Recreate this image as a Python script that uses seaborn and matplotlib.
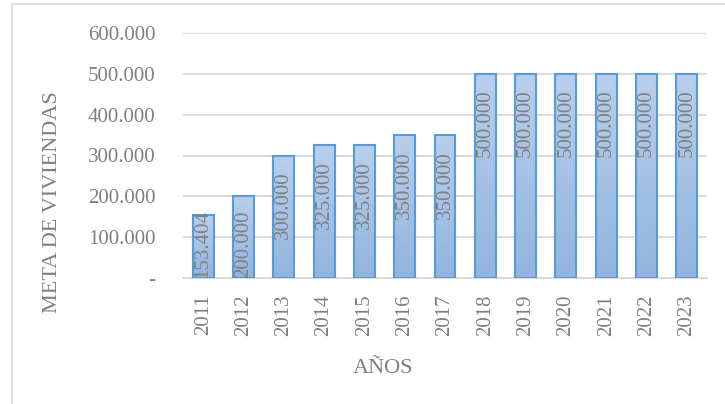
import pandas as pd
import numpy as np
import matplotlib
matplotlib.use("Agg")
import matplotlib.pyplot as plt
import seaborn as sns
from matplotlib.patches import Rectangle
from matplotlib.ticker import FuncFormatter
from matplotlib.colors import LinearSegmentedColormap

# data
years = ["2011", "2012", "2013", "2014", "2015", "2016", "2017",
         "2018", "2019", "2020", "2021", "2022", "2023"]
meta = [153404, 200000, 300000, 325000, 325000, 350000, 350000,
        500000, 500000, 500000, 500000, 500000, 500000]

df = pd.DataFrame({"anio": years, "meta": meta})

sns.set_style("white")
plt.rcParams['font.family'] = ['Liberation Serif', 'DejaVu Serif']
txt_col = "#7f7f7f"

fig = plt.figure(figsize=(7.25, 4.04), dpi=100)
ax = fig.add_axes([183/725, 1 - 278/404, (707 - 183)/725, (278 - 33)/404])

sns.barplot(data=df, x="anio", y="meta", color="#a6c3e8", saturation=1,
            edgecolor="#5b9bd5", linewidth=1.5, width=0.52, ax=ax, zorder=3)

# gradient fill like the original (light on top, darker at the base)
grad = LinearSegmentedColormap.from_list("g", ["#93b4df", "#b8cfec"])
for p in ax.patches:
    x0, y0 = p.get_x(), p.get_y()
    w, h = p.get_width(), p.get_height()
    im = ax.imshow(np.linspace(0, 1, 100).reshape(-1, 1), cmap=grad,
                   origin="lower", extent=[x0, x0 + w, y0, y0 + h],
                   aspect="auto", zorder=3.5)
    im.set_clip_path(p)
    p.set_facecolor("none")
    p.set_zorder(3.6)
ax.set_ylim(0, 600000)
ax.set_xlim(-0.5, len(years) - 0.5)

ax.set_yticks(np.arange(0, 600001, 100000))
fmt = lambda v, p: "-" if v == 0 else f"{int(v):,}".replace(",", ".")
ax.yaxis.set_major_formatter(FuncFormatter(fmt))
ax.grid(axis="y", color="#d9d9d9", linewidth=1.3, zorder=0)
for s in ["top", "right", "left"]:
    ax.spines[s].set_visible(False)
ax.spines["bottom"].set_color("#d9d9d9")
ax.spines["bottom"].set_linewidth(1.3)
ax.tick_params(axis="y", length=0, pad=20, labelsize=15, labelcolor=txt_col)
ax.tick_params(axis="x", length=0, pad=12, labelsize=15, labelcolor=txt_col,
               labelrotation=90)

ax.set_xlabel("AÑOS", fontsize=16, color=txt_col)
ax.set_ylabel("META DE VIVIENDAS", fontsize=16, color=txt_col)
ax.xaxis.set_label_coords((383 - 183) / 524, (278 - 359) / 245)
ax.yaxis.set_label_coords((62 - 183) / 524, (278 - 202) / 245)

# value labels inside the bars, rotated
px = 600000 / 245.0
for i, v in enumerate(meta):
    top = max(v - 16 * px, 68 * px)
    ax.text(i, top, fmt(v, None), rotation=90, ha="center", va="top",
            fontsize=15, color=txt_col, zorder=4)

fig.patches.append(Rectangle((12/725, -0.05), 1.0, 1 - 4/404 + 0.05,
                             transform=fig.transFigure, fill=False,
                             edgecolor="#d9d9d9", linewidth=1.2))

fig.savefig("out.png", dpi=100)
